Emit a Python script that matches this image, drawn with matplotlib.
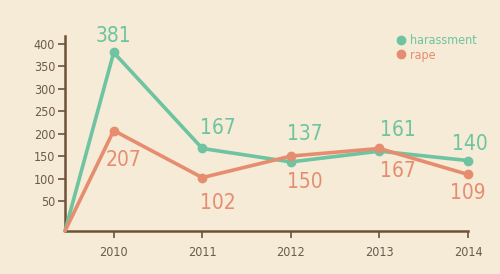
import matplotlib.pyplot as plt
from matplotlib.lines import Line2D
from matplotlib import font_manager

# ----- Data -----------------------------------------------------------------

years = [2010, 2011, 2012, 2013, 2014]
harassment = [381, 167, 137, 161, 140]
rape = [207, 102, 150, 167, 109]
yticks = [50, 100, 150, 200, 250, 300, 350, 400]

# ----- Style ----------------------------------------------------------------

BG = "#F5EBD6"
GREEN = "#6EC3A1"
ORANGE = "#E68D70"
AXIS = "#6E5238"
TEXT = "#6B5B4B"

plt.rcParams["font.family"] = ["DejaVu Sans"]
plt.rcParams["font.stretch"] = "condensed"
print(sorted({f.name for f in font_manager.fontManager.ttflist}))
print([(f.name, f.stretch, f.fname) for f in font_manager.fontManager.ttflist
       if "Condensed" in f.fname or "Narrow" in f.fname])

# label offsets in points (dx, dy)
h_off = [(0, 12), (11, 15), (10, 20), (13, 15), (1, 12)]
r_off = [(7, -21), (11, -18), (10, -19), (13, -16), (0, -13)]

fig = plt.figure(figsize=(5.0, 2.74), dpi=100, facecolor=BG)
ax = fig.add_axes([0.13, 0.157, 0.806, 0.712])
ax.set_facecolor(BG)

x0, x1 = 2009.45, 2014
y0, y1 = -17, 418
ax.set_xlim(x0, x1)
ax.set_ylim(y0, y1)

for vals, color in ((harassment, GREEN), (rape, ORANGE)):
    ax.plot([x0] + years, [y0] + vals, color=color, lw=2.6,
            solid_joinstyle="round", solid_capstyle="round", clip_on=False,
            zorder=3)
    ax.plot(years, vals, "o", color=color, ms=6, clip_on=False, zorder=4)

for x, v, (dx, dy) in zip(years, harassment, h_off):
    ax.annotate(str(v), (x, v), xytext=(dx, dy), textcoords="offset points",
                ha="center", va="center", fontsize=15, color=GREEN)
for x, v, (dx, dy) in zip(years, rape, r_off):
    ax.annotate(str(v), (x, v), xytext=(dx, dy), textcoords="offset points",
                ha="center", va="center", fontsize=15, color=ORANGE)

for side in ("top", "right"):
    ax.spines[side].set_visible(False)
for side in ("left", "bottom"):
    ax.spines[side].set_color(AXIS)
    ax.spines[side].set_linewidth(1.8)

ax.set_xticks(years)
ax.set_xticklabels([str(y) for y in years])
ax.set_yticks(yticks)
ax.tick_params(axis="both", colors=AXIS, width=1.2, length=5,
               labelsize=9, labelcolor=TEXT)
ax.tick_params(axis="x", pad=6)
ax.tick_params(axis="y", pad=2)

handles = [
    Line2D([], [], marker="o", ls="none", color=GREEN, ms=6),
    Line2D([], [], marker="o", ls="none", color=ORANGE, ms=6),
]
leg = ax.legend(handles, ["harassment", "rape"], loc="upper left",
                bbox_to_anchor=(0.81, 1.04), frameon=False, fontsize=9,
                handlelength=0.6, handletextpad=0.4, labelspacing=0.1,
                borderpad=0)
for t, c in zip(leg.get_texts(), (GREEN, ORANGE)):
    t.set_color(c)

fig.savefig("out.png", dpi=100, facecolor=BG)
